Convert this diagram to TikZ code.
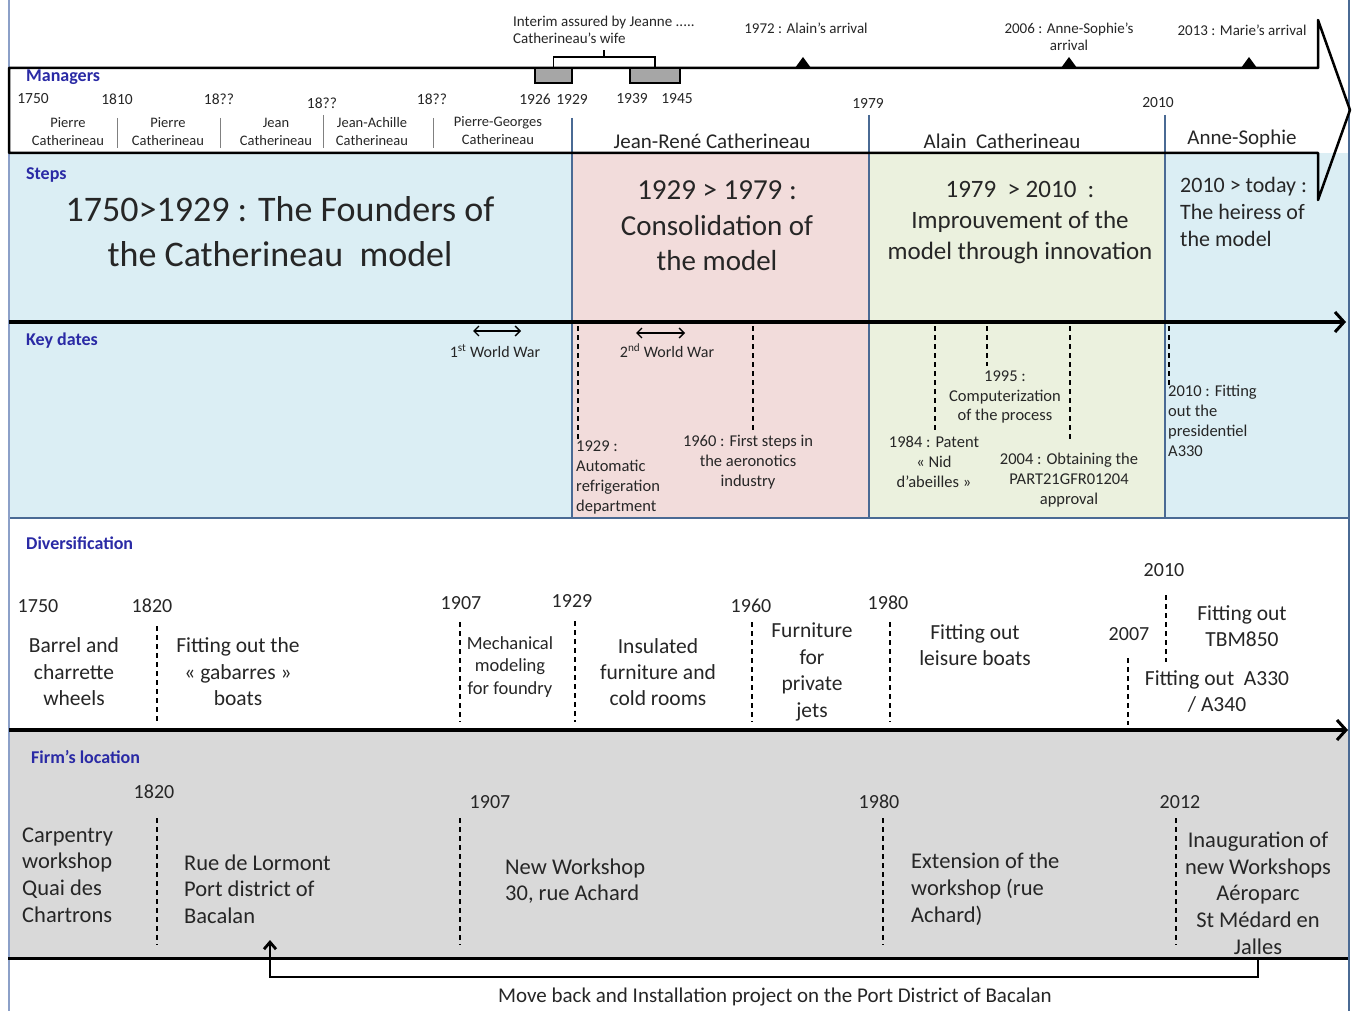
\documentclass[tikz,border=0pt]{standalone}
\usepackage{fontspec}
\setmainfont{Carlito}
\usetikzlibrary{arrows.meta}
\definecolor{cblue}{HTML}{DBEEF4}
\definecolor{cpink}{HTML}{F2DCDB}
\definecolor{colive}{HTML}{EBF1DE}
\definecolor{cgray}{HTML}{D9D9D9}
\definecolor{lblue}{HTML}{2A2AA5}
\definecolor{bord}{HTML}{4A6A94}
\definecolor{frame}{HTML}{8CA0C8}
\definecolor{txt}{HTML}{262626}
\definecolor{rgray}{HTML}{A6A6A6}
\tikzset{
  lab/.style={font=\fontsize{18}{20}\selectfont\bfseries, text=lblue, anchor=west, inner sep=0pt},
  tx/.style={text=txt, inner sep=0pt, align=center, font=\fontsize{#1}{#1}\selectfont},
  ml/.style 2 args={text=txt, inner sep=0pt, align=center, font=\fontsize{#1}{#2}\selectfont},
  mll/.style 2 args={text=txt, inner sep=0pt, align=left, anchor=west, font=\fontsize{#1}{#2}\selectfont},
  dsh/.style={dash pattern=on 5pt off 4pt, line width=1.2pt},
  bigarrow/.style={line width=3.5pt, -{Straight Barb[length=9pt,width=20pt,line width=3pt]}},
  warrow/.style={line width=1.3pt, {Straight Barb[length=5pt,width=10pt]}-{Straight Barb[length=5pt,width=10pt]}},
  colline/.style={bord, line width=1.5pt},
  sep/.style={gray, line width=0.8pt},
  tri/.style={fill=black},
  gbox/.style={fill=rgray, draw=black, line width=2pt},
}
\begin{document}
\begin{tikzpicture}[x=1pt,y=-1pt]
\useasboundingbox (0,0) rectangle (1355,1011);
\fill[white] (0,0) rectangle (1355,1011);

% ---------- step / key date cells ----------
\fill[cblue]  (10,153) rectangle (572,518);
\fill[cpink]  (572,153) rectangle (869,518);
\fill[colive] (869,153) rectangle (1165,518);
\fill[cblue]  (1165,153) rectangle (1348,518);
\fill[cgray]  (10,730) rectangle (1348,958);
\draw[colline] (10,518) -- (1348,518);
\draw[colline] (572,118) -- (572,518);
\draw[colline] (869,115) -- (869,518);
\draw[colline] (1165,115) -- (1165,518);

% frame
\draw[frame, line width=2pt] (9,0) -- (9,1011);
\draw[bord, line width=2pt] (1349,0) -- (1349,1011);

% ---------- managers arrow ----------
\draw[line width=2.5pt, line join=round] (9,68) -- (1318,68) -- (1318,20) -- (1350,110) -- (1318,200) -- (1318,153) -- (9,153) -- cycle;

\node[lab] (managers) at (26,77) {Managers};
\node[tx=15.5] (y1750) at (33,99) {1750};
\node[tx=15.5] (y1810) at (117,99) {1810};
\node[tx=15.5] (y18a) at (219,99) {18??};
\node[tx=15.5] (y18b) at (322,103) {18??};
\node[tx=15.5] (y18c) at (432,99) {18??};
\node[tx=15.5] (y1926) at (535,99) {1926};
\node[tx=15.5] (y1929) at (572,99) {1929};
\node[tx=15.5] (y1939) at (632,99) {1939};
\node[tx=15.5] (y1945) at (677,99) {1945};
\node[tx=15.5] (y1979) at (868,103) {1979};
\node[tx=15.5] (y2010) at (1158,103) {2010};

\node[ml={14.5}{18}] (m1) at (68,132) {Pierre\\Catherineau};
\node[ml={14.5}{18}] (m2) at (168,132) {Pierre\\Catherineau};
\node[ml={14.5}{18}] (m3) at (276,132) {Jean\\Catherineau};
\node[ml={14.5}{18}] (m4) at (372,132) {Jean-Achille\\Catherineau};
\node[ml={14.5}{18}] (m5) at (498,131) {Pierre-Georges\\Catherineau};
\draw[sep] (117,118) -- (117,148);
\draw[sep] (220,118) -- (220,148);
\draw[sep] (323,115) -- (323,148);
\draw[sep] (433,118) -- (433,148);
\node[tx=21] (jr) at (712,141) {Jean-René Catherineau};
\node[tx=21] (al) at (1002,141) {Alain\ \ Catherineau};
\node[tx=21] (as) at (1242,139) {Anne-Sophie};

% interim boxes
\node[gbox, minimum width=37pt, minimum height=15pt, inner sep=0pt] (g1) at (553.5,75.5) {};
\node[gbox, minimum width=50pt, minimum height=15pt, inner sep=0pt] (g2) at (655,75.5) {};
\draw[line width=1.2pt] (g1.north) -- ++(0,-10) -| (g2.north);
\coordinate (brk) at (604,58);
\draw[line width=1.2pt] (brk) -- ++(0,-8);
\node[ml={15}{17}, align=left, anchor=north west] (interim) at (513,16) {Interim assured by Jeanne .....\\Catherineau’s wife};

\node[tx=15] (alainarr) at (806,28) {1972 : Alain’s arrival};
\node[ml={15}{17}] (asarr) at (1069,37) {2006 : Anne-Sophie’s\\arrival};
\node[tx=15] (marie) at (1242,30) {2013 : Marie’s arrival};
\fill[tri] (795,68) -- (803,57) -- (811,68) -- cycle;
\fill[tri] (1061,68) -- (1069,57) -- (1077,68) -- cycle;
\fill[tri] (1241,68) -- (1249,57) -- (1257,68) -- cycle;

% ---------- steps ----------
\node[lab] (steps) at (26,175) {Steps};
\node[ml={36}{45}] (st1) at (280,232) {1750>1929 : The Founders of\\the Catherineau\ \ model};
\node[ml={29}{35.5}] (st2) at (717,226) {1929 > 1979 :\\Consolidation of\\the model};
\node[ml={25}{31}] (st3) at (1020,223) {1979 \ > 2010 \ :\\Improuvement of the\\model through innovation};
\node[mll={22}{27}] (st4) at (1180,212) {2010 > today :\\The heiress of\\the model};

% ---------- key dates ----------
\draw[bigarrow] (9,322) -- (1346,322);
\node[lab] (keyd) at (26,341) {Key dates};
\draw[warrow] (473,331) -- (521,331);
\node[tx=16] (ww1) at (495,351) {1\textsuperscript{st} World War};
\draw[warrow] (636,333) -- (685,333);
\node[tx=16] (ww2) at (667,351) {2\textsuperscript{nd} World War};

\draw[dsh] (578,326) -- (578,440);
\draw[dsh] (753,326) -- (753,430);
\draw[dsh] (935,326) -- (935,432);
\draw[dsh] (987,326) -- (987,366);
\draw[dsh] (1070,326) -- (1070,440);
\draw[dsh] (1169,326) -- (1169,385);

\node[mll={16.5}{20.3}] (k1929) at (576,477.5) {1929 :\\Automatic\\refrigeration\\department};
\node[ml={16.5}{20}] (k1960) at (748,462) {1960 : First steps in\\the aeronotics\\industry};
\node[ml={16.5}{19.5}] (k1995) at (1005,397) {1995 :\\Computerization\\of the process};
\node[ml={16.5}{20}] (k1984) at (934,462) {1984 : Patent\\« Nid\\d’abeilles »};
\node[ml={16.5}{20}] (k2004) at (1069,480) {2004 : Obtaining the\\PART21GFR01204\\approval};
\node[mll={16.5}{20}] (k2010) at (1168,421) {2010 : Fitting\\out the\\presidentiel\\A330};

% ---------- diversification ----------
\draw[bigarrow] (9,730) -- (1348,730);
\node[lab] (divers) at (26,543) {Diversification};
\node[tx=20] (d1750) at (38,606) {1750};
\node[tx=20] (d1820) at (152,606) {1820};
\node[tx=20] (d1907) at (461,603) {1907};
\node[tx=20] (d1929) at (572,601) {1929};
\node[tx=20] (d1960) at (751,606) {1960};
\node[tx=20] (d1980) at (888,603) {1980};
\node[tx=20] (d2010) at (1164,570) {2010};
\node[tx=20] (d2007) at (1129,634) {2007};

\draw[dsh] (157,626) -- (157,722);
\draw[dsh] (460,622) -- (460,722);
\draw[dsh] (575,621) -- (575,722);
\draw[dsh] (752,622) -- (752,722);
\draw[dsh] (890,622) -- (890,722);
\draw[dsh] (1166,595) -- (1166,662);
\draw[dsh] (1128,658) -- (1128,725);

\node[ml={21.5}{26.5}] (dv1) at (74,672) {Barrel and\\charrette\\wheels};
\node[ml={21.5}{26.5}] (dv2) at (238,672) {Fitting out the\\« gabarres »\\boats};
\node[ml={18.5}{22.5}] (dv3) at (510,667) {Mechanical\\modeling\\for foundry};
\node[ml={21.5}{26}] (dv4) at (658,672) {Insulated\\furniture and\\cold rooms};
\node[ml={21.5}{26.7}] (dv5) at (812,672) {Furniture\\for\\private\\jets};
\node[ml={21.5}{26}] (dv6) at (975,645) {Fitting out\\leisure boats};
\node[ml={21.5}{26}] (dv7) at (1242,626) {Fitting out\\TBM850};
\node[ml={21.5}{26}] (dv8) at (1217,692) {Fitting out\ \ A330\\/ A340};

% ---------- firm's location ----------
\node[lab] (firm) at (31,757) {Firm’s location};
\node[tx=20] (f1820) at (154,792) {1820};
\node[tx=20] (f1907) at (490,802) {1907};
\node[tx=20] (f1980) at (879,802) {1980};
\node[tx=20] (f2012) at (1180,802) {2012};
\draw[dsh] (157,818) -- (157,945);
\draw[dsh] (460,818) -- (460,945);
\draw[dsh] (883,818) -- (883,945);
\draw[dsh] (1176,818) -- (1176,945);

\node[mll={22.5}{26.7}] (fl1) at (22,875) {Carpentry\\workshop\\Quai des\\Chartrons};
\node[mll={22.5}{26.5}] (fl2) at (184,889) {Rue de Lormont\\Port district of\\Bacalan};
\node[mll={22.5}{26.5}] (fl3) at (505,881) {New Workshop\\30, rue Achard};
\node[mll={22.5}{26.8}] (fl4) at (911,889) {Extension of the\\workshop (rue\\Achard)};
\node[ml={22.5}{26.7}] (fl5) at (1258,893) {Inauguration of\\new Workshops\\Aéroparc\\St Médard en\\Jalles};

\draw[line width=3pt] (8,958) -- (1348,958);

% ---------- move back arrow ----------
\coordinate (mvA) at (1258,958);
\coordinate (mvB) at (270,940);
\draw[line width=2.8pt, -{Straight Barb[length=7pt,width=12pt]}] (mvA) -- ++(0,19) -| (mvB);
\node[tx=21] (move) at (775,997) {Move back and Installation project on the Port District of Bacalan};
\end{tikzpicture}
\end{document}
